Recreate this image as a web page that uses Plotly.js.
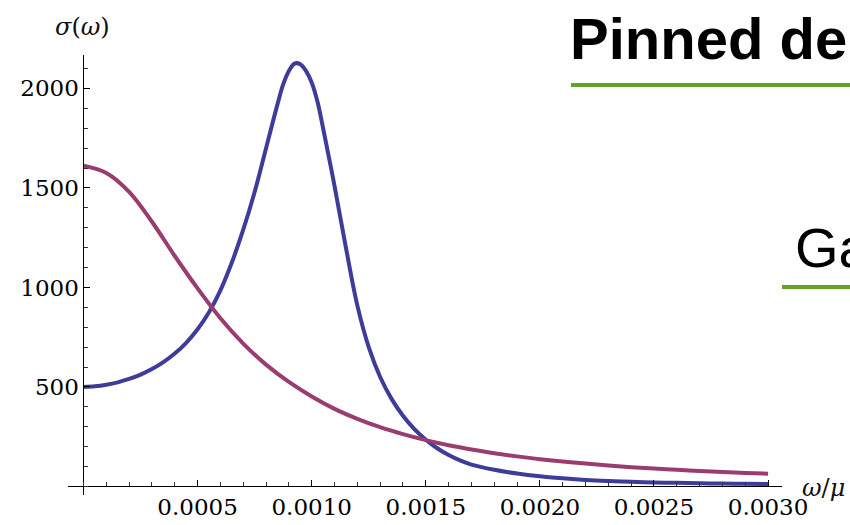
<!DOCTYPE html>
<html>
<head>
<meta charset="utf-8">
<script src="https://cdn.plot.ly/plotly-3.0.1.min.js"></script>
<style>html,body{margin:0;padding:0;background:#fff;}#chart{width:850px;height:525px;}</style>
</head>
<body>
<div id="chart"></div>
<script>
// ---- data ----
var omegaBlue = [0, 0.00005, 0.0001, 0.00015, 0.0002, 0.00025, 0.0003, 0.00035, 0.0004, 0.00045, 0.0005, 0.00055, 0.0006, 0.00065, 0.0007, 0.00075, 0.0008, 0.00085, 0.000875, 0.0009, 0.000925, 0.00095, 0.000975, 0.001, 0.001025, 0.00105, 0.0011, 0.00115, 0.0012, 0.00125, 0.0013, 0.00135, 0.0014, 0.00145, 0.0015, 0.00155, 0.0016, 0.00165, 0.0017, 0.0018, 0.0019, 0.002, 0.0021, 0.0022, 0.0023, 0.0024, 0.0025, 0.0026, 0.0027, 0.0028, 0.0029, 0.003];
var sigmaBlue = [500, 503, 511, 523, 540, 562, 590, 625, 668, 722, 790, 875, 985, 1125, 1290, 1480, 1700, 1920, 2020, 2088, 2125, 2122, 2088, 2030, 1935, 1800, 1510, 1200, 910, 700, 550, 440, 355, 288, 235, 192, 158, 131, 110, 84, 65, 51, 41, 33, 27, 23, 20, 18, 16, 14.5, 13, 12];

var omegaRed = [0, 0.0001, 0.0002, 0.0003, 0.0004, 0.0005, 0.0006, 0.0007, 0.0008, 0.0009, 0.001, 0.0011, 0.0012, 0.0013, 0.0014, 0.0015, 0.0016, 0.0017, 0.0018, 0.0019, 0.002, 0.0021, 0.0022, 0.0023, 0.0024, 0.0025, 0.0026, 0.0027, 0.0028, 0.0029, 0.003];
var sigmaRed = [1612, 1575, 1480, 1330, 1158, 995, 845, 718, 612, 525, 452, 390, 340, 298, 263, 233, 207, 186, 167, 151, 137, 125, 115, 105, 97, 90, 84, 78, 73, 68, 64];

var xTickVals = [0.0005, 0.0010, 0.0015, 0.0020, 0.0025, 0.0030];
var xTickText = ["0.0005", "0.0010", "0.0015", "0.0020", "0.0025", "0.0030"];
var yTickVals = [500, 1000, 1500, 2000];
var yTickText = ["500", "1000", "1500", "2000"];

var titleText = "Pinned de";
var subText = "Ga";
var yLabel = "<i>σ</i>(<i>ω</i>)";
var xLabel = "<i>ω</i>/<i>μ</i>";

// ---- layout geometry ----
var W = 850, H = 525;
var L = 68, R = 68, T = 55, B = 30;
var pw = W - L - R, ph = H - T - B;
var xRange = [-0.0000679, 0.003061];
var yRange = [-43, 2168];
function px(x) { return (x - L) / pw; }
function py(y) { return (H - B - y) / ph; }

var serif = "DejaVu Serif";
var blue = "#3d3d99", red = "#993d71", green = "#62a228";

var traces = [
  {x: omegaBlue, y: sigmaBlue, type: "scatter", mode: "lines",
   line: {color: blue, width: 4, shape: "spline", smoothing: 1}, hoverinfo: "skip"},
  {x: omegaRed, y: sigmaRed, type: "scatter", mode: "lines",
   line: {color: red, width: 4, shape: "spline", smoothing: 1}, hoverinfo: "skip"}
];

var layout = {
  width: W, height: H,
  margin: {l: L, r: R, t: T, b: B, pad: 0},
  paper_bgcolor: "#fff", plot_bgcolor: "#fff",
  showlegend: false,
  xaxis: {
    range: xRange, anchor: "free",
    position: -yRange[0] / (yRange[1] - yRange[0]),
    showgrid: false, zeroline: false, showline: true, linecolor: "#000", linewidth: 1,
    tickmode: "array", tickvals: xTickVals, ticktext: xTickText,
    ticks: "inside", ticklen: 6, tickcolor: "#000", tickwidth: 1,
    minor: {dtick: 0.0001, tick0: 0, ticks: "inside", ticklen: 4, tickcolor: "#333", tickwidth: 1},
    tickfont: {family: serif, size: 23, color: "#000"},
    fixedrange: true
  },
  yaxis: {
    range: yRange, anchor: "free",
    position: -xRange[0] / (xRange[1] - xRange[0]),
    showgrid: false, zeroline: false, showline: true, linecolor: "#000", linewidth: 1,
    tickmode: "array", tickvals: yTickVals, ticktext: yTickText,
    ticks: "inside", ticklen: 6, tickcolor: "#000", tickwidth: 1,
    minor: {dtick: 100, tick0: 0, ticks: "inside", ticklen: 4, tickcolor: "#333", tickwidth: 1},
    tickfont: {family: serif, size: 23, color: "#000"},
    fixedrange: true
  },
  shapes: [
    {type: "line", xref: "paper", yref: "paper", x0: px(571), x1: px(850), y0: py(85), y1: py(85),
     line: {color: green, width: 4}},
    {type: "line", xref: "paper", yref: "paper", x0: px(782), x1: px(850), y0: py(287), y1: py(287),
     line: {color: green, width: 4}}
  ],
  annotations: [
    {text: titleText, xref: "paper", yref: "paper", x: px(568), y: py(38), xanchor: "left", yanchor: "middle",
     showarrow: false, font: {family: "Liberation Sans", size: 58, color: "#000", weight: "bold"}},
    {text: subText, xref: "paper", yref: "paper", x: px(793), y: py(247), xanchor: "left", yanchor: "middle",
     showarrow: false, font: {family: "Liberation Sans", size: 56, color: "#000"}},
    {text: yLabel, xref: "paper", yref: "paper", x: px(82), y: py(27), xanchor: "center", yanchor: "middle",
     showarrow: false, font: {family: serif, size: 24, color: "#111"}},
    {text: xLabel, xref: "paper", yref: "paper", x: px(823), y: py(488), xanchor: "center", yanchor: "middle",
     showarrow: false, font: {family: serif, size: 24, color: "#111"}}
  ]
};

Plotly.newPlot("chart", traces, layout, {displayModeBar: false, staticPlot: true});
</script>
</body>
</html>
